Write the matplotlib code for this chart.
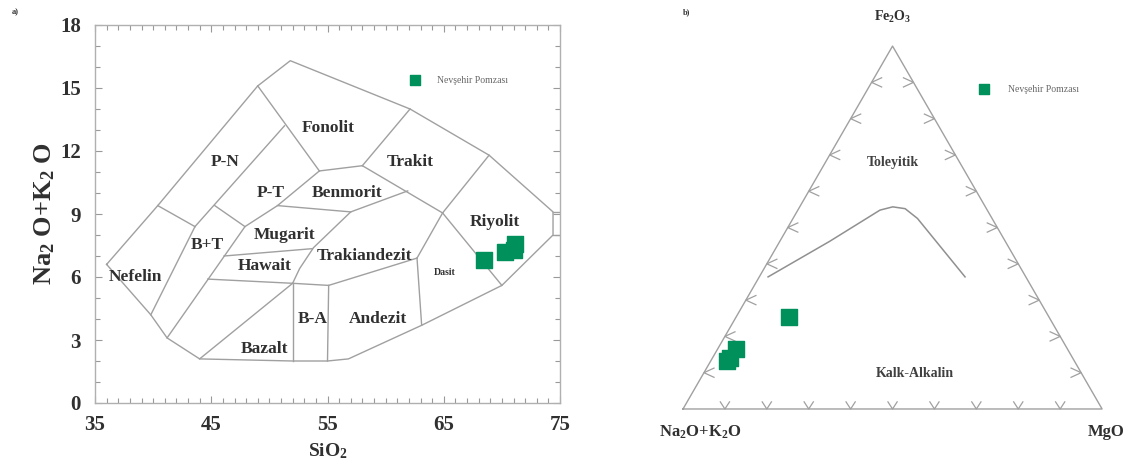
import numpy as np
import matplotlib
matplotlib.use("Agg")
import matplotlib.pyplot as plt
from matplotlib.ticker import MultipleLocator

plt.rcParams['font.family'] = ['Liberation Serif', 'DejaVu Serif']
plt.rcParams['mathtext.default'] = 'regular'

# --- TAS samples (SiO2, Na2O+K2O) ---
tas_sio2 = [68.5, 70.3, 71.0, 71.1]
tas_alk = [6.8, 7.2, 7.3, 7.55]

# --- AFM samples (% A, F, M) ---
afm_a = [62.0, 79.1, 82.9, 81.8]
afm_f = [25.4, 16.5, 13.2, 14.0]
afm_m = [12.6, 4.4, 3.9, 4.2]

# --- Irvine & Baragar boundary (% A, F, M) ---
curve_a = [61.5, 41.9, 25.6, 22.1, 19.4, 17.8, 14.5]
curve_f = [36.4, 46.2, 54.8, 55.7, 55.2, 52.5, 36.4]
curve_m = [2.1, 11.9, 19.6, 22.2, 25.4, 29.7, 49.1]

# --- TAS field boundaries (SiO2, alkali) ---
tas_outline = [(36.0, 6.6), (40.4, 9.4), (49.0, 15.1), (51.8, 16.3), (62.1, 14.0),
               (68.9, 11.8), (74.4, 9.1), (74.4, 8.0), (70.0, 5.6), (63.1, 3.7),
               (56.8, 2.1), (55.0, 2.0), (52.0, 2.0), (44.0, 2.1), (41.2, 3.1),
               (39.8, 4.2), (36.0, 6.6)]
tas_lines = [
    [(74.4, 9.1), (75.0, 9.1)],
    [(74.4, 8.0), (75.0, 8.0)],
    [(40.4, 9.4), (43.6, 8.4)],
    [(43.6, 8.4), (39.8, 4.2)],
    [(43.6, 8.4), (51.3, 13.2)],
    [(45.3, 9.4), (47.9, 8.4)],
    [(49.0, 15.1), (54.3, 11.05)],
    [(54.3, 11.05), (58.0, 11.3)],
    [(58.0, 11.3), (62.1, 14.0)],
    [(58.0, 11.3), (64.9, 9.05)],
    [(64.9, 9.05), (68.9, 11.8)],
    [(64.9, 9.05), (70.0, 5.6)],
    [(54.3, 11.05), (50.7, 9.4), (47.9, 8.4), (41.2, 3.1)],
    [(50.7, 9.4), (57.0, 9.1)],
    [(61.9, 10.1), (57.0, 9.1), (53.8, 7.4), (52.6, 6.4), (52.0, 5.7)],
    [(46.1, 7.0), (53.7, 7.35)],
    [(44.7, 5.9), (52.0, 5.7), (55.1, 5.6), (62.7, 6.9)],
    [(62.7, 6.9), (64.9, 9.05)],
    [(62.7, 6.9), (63.1, 3.7)],
    [(52.0, 5.7), (44.0, 2.1)],
    [(52.0, 5.7), (52.0, 2.0)],
    [(55.1, 5.6), (55.0, 2.0)],
]

field_names = ['Fonolit', 'Trakit', 'P-N', 'P-T', 'Benmorit', 'Mugarit', 'B+T', 'Hawait',
               'Trakiandezit', 'Nefelin', 'Riyolit', 'B-A', 'Andezit', 'Bazalt']
field_x = [55.1, 62.1, 46.2, 50.1, 56.7, 51.3, 44.7, 49.6, 58.2, 38.5, 69.4, 53.7, 59.3, 49.6]
field_y = [13.1, 11.5, 11.5, 10.0, 10.0, 8.0, 7.5, 6.5, 7.0, 6.0, 8.6, 4.0, 4.0, 2.55]

sio2_ticks = [35, 45, 55, 65, 75]

green = '#00905c'
line_gray = '#a0a0a0'
text_dark = '#303030'

fig = plt.figure(figsize=(11.31, 4.7), dpi=100)

# ---------------- a) TAS ----------------
ax = fig.add_axes([95 / 1131, 67 / 470, 465 / 1131, 378 / 470])
xs, ys = zip(*tas_outline)
ax.plot(xs, ys, color=line_gray, lw=1)
for seg in tas_lines:
    sx, sy = zip(*seg)
    ax.plot(sx, sy, color=line_gray, lw=1)

for name, fx, fy in zip(field_names, field_x, field_y):
    ax.text(fx, fy, name, ha='center', va='center', fontsize=12.5,
            fontweight='bold', color=text_dark)
ax.text(65.1, 6.2, 'Dasit', ha='center', va='center', fontsize=7,
        fontweight='bold', color=text_dark)

ax.scatter(tas_sio2, tas_alk, marker='s', s=135, color=green, zorder=5,
           label='Nevşehir Pomzası')
leg = ax.legend(loc='center left', bbox_to_anchor=(0.667, 0.854), frameon=False,
                borderpad=0, handlelength=1, handletextpad=1.8, fontsize=7,
                markerscale=0.6, scatterpoints=1)
for t in leg.get_texts():
    t.set_color('#666666')

ax.set_xlim(35, 75)
ax.set_ylim(0, 18)
ax.set_xticks(sio2_ticks)
ax.xaxis.set_minor_locator(MultipleLocator(1))
ax.yaxis.set_major_locator(MultipleLocator(3))
ax.yaxis.set_minor_locator(MultipleLocator(1))
ax.tick_params(which='both', direction='in', top=True, right=True,
               color='#999999', labelsize=15, width=0.8)
ax.tick_params(which='major', length=5)
ax.tick_params(axis='x', which='major', pad=9)
ax.tick_params(axis='y', which='major', pad=10)
ax.tick_params(which='minor', length=3.5)
for lab in ax.get_xticklabels() + ax.get_yticklabels():
    lab.set_fontweight('bold')
    lab.set_color(text_dark)
for sp in ax.spines.values():
    sp.set_color('#b0b0b0')
    sp.set_linewidth(1)
ax.set_xlabel('SiO$_2$', fontsize=14, fontweight='bold', color=text_dark, labelpad=4)
ax.set_ylabel('Na$_2$ O+K$_2$ O', fontsize=19, fontweight='bold', color=text_dark, labelpad=2)
fig.text(12 / 1131, 1 - 14 / 470, 'a)', fontsize=6, fontweight='bold', color=text_dark)

# ---------------- b) AFM ----------------
tx = fig.add_axes([640 / 1131, 0, 491 / 1131, 1])
tx.set_xlim(-0.1026, 1.069)
tx.set_ylim(-0.1456, 0.976)
tx.axis('off')
h = np.sqrt(3) / 2


def to_xy(a, f, m):
    a, f, m = (np.asarray(v, dtype=float) for v in (a, f, m))
    tot = a + f + m
    f = f / tot
    m = m / tot
    return m + f / 2, f * h


tri_x, tri_y = to_xy([100, 0, 0, 100], [0, 100, 0, 0], [0, 0, 100, 0])
tx.plot(tri_x, tri_y, color=line_gray, lw=1)

ticks = np.arange(1, 10) / 10
for t in ticks:
    # bottom edge
    tx.plot([t - 0.011, t, t + 0.011], [0.017, 0, 0.017], color=line_gray, lw=0.9)
    # left edge
    px, py = t / 2, t * h
    tx.plot([px + 0.024, px, px + 0.024], [py + 0.011, py, py - 0.011], color=line_gray, lw=0.9)
    # right edge
    px, py = 1 - t / 2, t * h
    tx.plot([px - 0.024, px, px - 0.024], [py + 0.011, py, py - 0.011], color=line_gray, lw=0.9)

cx, cy = to_xy(curve_a, curve_f, curve_m)
tx.plot(cx, cy, color='#909090', lw=1.1)

sx, sy = to_xy(afm_a, afm_f, afm_m)
tx.scatter(sx, sy, marker='s', s=135, color=green, zorder=5, label='Nevşehir Pomzası')
leg2 = tx.legend(loc='center left', bbox_to_anchor=(0.680, 0.8106), frameon=False,
                 borderpad=0, handlelength=1, handletextpad=2.0, fontsize=7,
                 markerscale=0.6, scatterpoints=1)
for t in leg2.get_texts():
    t.set_color('#666666')

tx.text(0.5, 0.935, 'Fe$_2$O$_3$', ha='center', va='center', fontsize=10,
        fontweight='bold', color=text_dark)
tx.text(0.04, -0.055, 'Na$_2$O+K$_2$O', ha='center', va='center', fontsize=12,
        fontweight='bold', color=text_dark)
tx.text(1.01, -0.055, 'MgO', ha='center', va='center', fontsize=12,
        fontweight='bold', color=text_dark)
tx.text(0.501, 0.589, 'Toleyitik', ha='center', va='center', fontsize=10,
        fontweight='bold', color='#404040')
tx.text(0.554, 0.0835, 'Kalk-Alkalin', ha='center', va='center', fontsize=10,
        fontweight='bold', color='#404040')
fig.text(683 / 1131, 1 - 14 / 470, 'b)', fontsize=6, fontweight='bold', color=text_dark)

fig.savefig('out.png', dpi=100)
